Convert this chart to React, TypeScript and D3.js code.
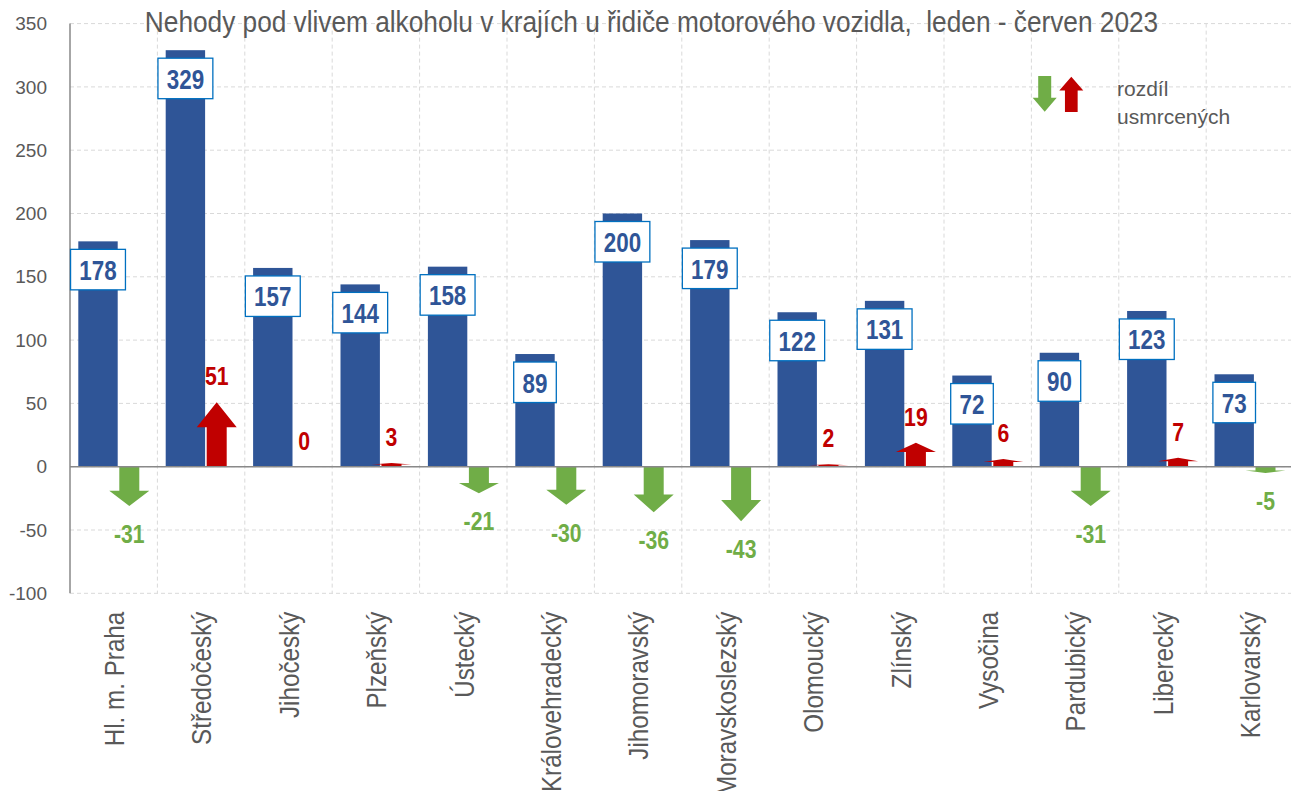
import React from "react";
import * as d3 from "d3";

const categories = [
  "Hl. m. Praha",
  "Středočeský",
  "Jihočeský",
  "Plzeňský",
  "Ústecký",
  "Královehradecký",
  "Jihomoravský",
  "Moravskoslezský",
  "Olomoucký",
  "Zlínský",
  "Vysočina",
  "Pardubický",
  "Liberecký",
  "Karlovarský",
];
const accidents = [178, 329, 157, 144, 158, 89, 200, 179, 122, 131, 72, 90, 123, 73];
const deathDiff = [-31, 51, 0, 3, -21, -30, -36, -43, 2, 19, 6, -31, 7, -5];
const yTicks = [-100, -50, 0, 50, 100, 150, 200, 250, 300, 350];

const W = 1291;
const H = 791;
const left = 70;
const band = 87.4;
const FONT = "'Liberation Sans', Arial, sans-serif";
const GRAY = "#595959";
const BLUE = "#2F5597";
const GREEN = "#70AD47";
const RED = "#C00000";
const NARROW = 0.8; // the original uses a condensed face, squeeze the regular one

// arrow polygon, pointing from y0 to y1, centred on cx
function arrowPath(cx: number, y0: number, y1: number, shaftW: number, headW: number) {
  const len = y1 - y0;
  const head = len * 0.39;
  const yh = y1 - head;
  return (
    d3.line()([
      [cx - shaftW / 2, y0],
      [cx - shaftW / 2, yh],
      [cx - headW / 2, yh],
      [cx, y1],
      [cx + headW / 2, yh],
      [cx + shaftW / 2, yh],
      [cx + shaftW / 2, y0],
    ]) + "Z"
  );
}

export default function App() {
  const x = d3
    .scaleBand<string>()
    .domain(categories)
    .range([left, left + band * categories.length])
    .padding(0);
  const y = d3.scaleLinear().domain([-100, 350]).range([593.3, 23.6]);
  const y0 = y(0);
  const plotRight = left + band * categories.length;

  const textW = (n: number) => String(n).length * 12.3;

  return (
    <svg
      width={W}
      height={H}
      style={{ position: "absolute", left: 0, top: 0, background: "#fff" }}
    >
      {/* grid */}
      {yTicks.map((t) => (
        <line
          key={"h" + t}
          x1={left}
          x2={plotRight}
          y1={y(t)}
          y2={y(t)}
          stroke="#D9D9D9"
          strokeWidth={1}
          strokeDasharray="4,3"
        />
      ))}
      {categories.map((c, i) => (
        <line
          key={"v" + i}
          x1={(x(c) as number) + band}
          x2={(x(c) as number) + band}
          y1={y(350)}
          y2={y(-100)}
          stroke="#D9D9D9"
          strokeWidth={1}
          strokeDasharray="4,3"
        />
      ))}
      {/* y tick labels */}
      {yTicks.map((t) => (
        <text
          key={"t" + t}
          x={47}
          y={y(t)}
          dy="0.35em"
          textAnchor="end"
          fontFamily={FONT}
          fontSize={19}
          fill={GRAY}
        >
          {t}
        </text>
      ))}
      {/* bars */}
      {categories.map((c, i) => (
        <rect
          key={"b" + i}
          x={(x(c) as number) + 8.3}
          width={39.4}
          y={y(accidents[i])}
          height={y0 - y(accidents[i])}
          fill={BLUE}
        />
      ))}
      {/* arrows */}
      {categories.map((c, i) => {
        const d = deathDiff[i];
        if (d === 0) return null;
        const cx = (x(c) as number) + 59.3;
        return (
          <path
            key={"a" + i}
            d={arrowPath(cx, y0, y(d), 20, 40)}
            fill={d > 0 ? RED : GREEN}
          />
        );
      })}
      {/* axes lines */}
      <line x1={left} x2={plotRight} y1={y0} y2={y0} stroke="#898989" strokeWidth={1.5} />
      <line x1={left} x2={left} y1={y(350)} y2={y(-100)} stroke="#898989" strokeWidth={1.5} />
      {/* value boxes */}
      {categories.map((c, i) => {
        const cx = (x(c) as number) + 8.3 + 19.7;
        const top = y(accidents[i]) + 8;
        const bw = textW(accidents[i]) + 18;
        return (
          <g key={"l" + i}>
            <rect
              x={cx - bw / 2}
              y={top}
              width={bw}
              height={40.5}
              fill="#fff"
              stroke="#0070C0"
              strokeWidth={1.3}
            />
            <text
              transform={`translate(${cx},${top + 30.5}) scale(${NARROW},1)`}
              textAnchor="middle"
              fontFamily={FONT}
              fontWeight="bold"
              fontSize={28}
              fill={BLUE}
            >
              {accidents[i]}
            </text>
          </g>
        );
      })}
      {/* diff labels */}
      {categories.map((c, i) => {
        const d = deathDiff[i];
        const cx = (x(c) as number) + 59.3;
        const ty = d >= 0 ? y(d) - 17 : y(d) + 37;
        return (
          <text
            key={"d" + i}
            transform={`translate(${cx},${ty}) scale(${NARROW},1)`}
            textAnchor="middle"
            fontFamily={FONT}
            fontWeight="bold"
            fontSize={26.5}
            fill={d >= 0 ? RED : GREEN}
          >
            {d}
          </text>
        );
      })}
      {/* category labels */}
      {categories.map((c, i) => {
        const cx = (x(c) as number) + band / 2 + 10.3;
        return (
          <text
            key={"c" + i}
            transform={`translate(${cx},611.7) rotate(-90) scale(0.85,1)`}
            textAnchor="end"
            fontFamily={FONT}
            fontSize={28.5}
            fill={GRAY}
          >
            {c}
          </text>
        );
      })}
      {/* title */}
      <text
        transform="translate(651.5,32) scale(0.905,1)"
        textAnchor="middle"
        fontFamily={FONT}
        fontSize={29}
        fill={GRAY}
        style={{ whiteSpace: "pre" }}
      >
        {"Nehody pod vlivem alkoholu v krajích u řidiče motorového vozidla,  leden - červen 2023"}
      </text>
      {/* legend */}
      <path d={arrowPath(1044.7, 76, 111.7, 13, 24)} fill={GREEN} />
      <path d={arrowPath(1071.3, 112, 76.7, 12.7, 24)} fill={RED} />
      <text x={1117} y={96} fontFamily={FONT} fontSize={21} fill={GRAY}>
        rozdíl
      </text>
      <text x={1117} y={124} fontFamily={FONT} fontSize={21} fill={GRAY}>
        usmrcených
      </text>
    </svg>
  );
}
